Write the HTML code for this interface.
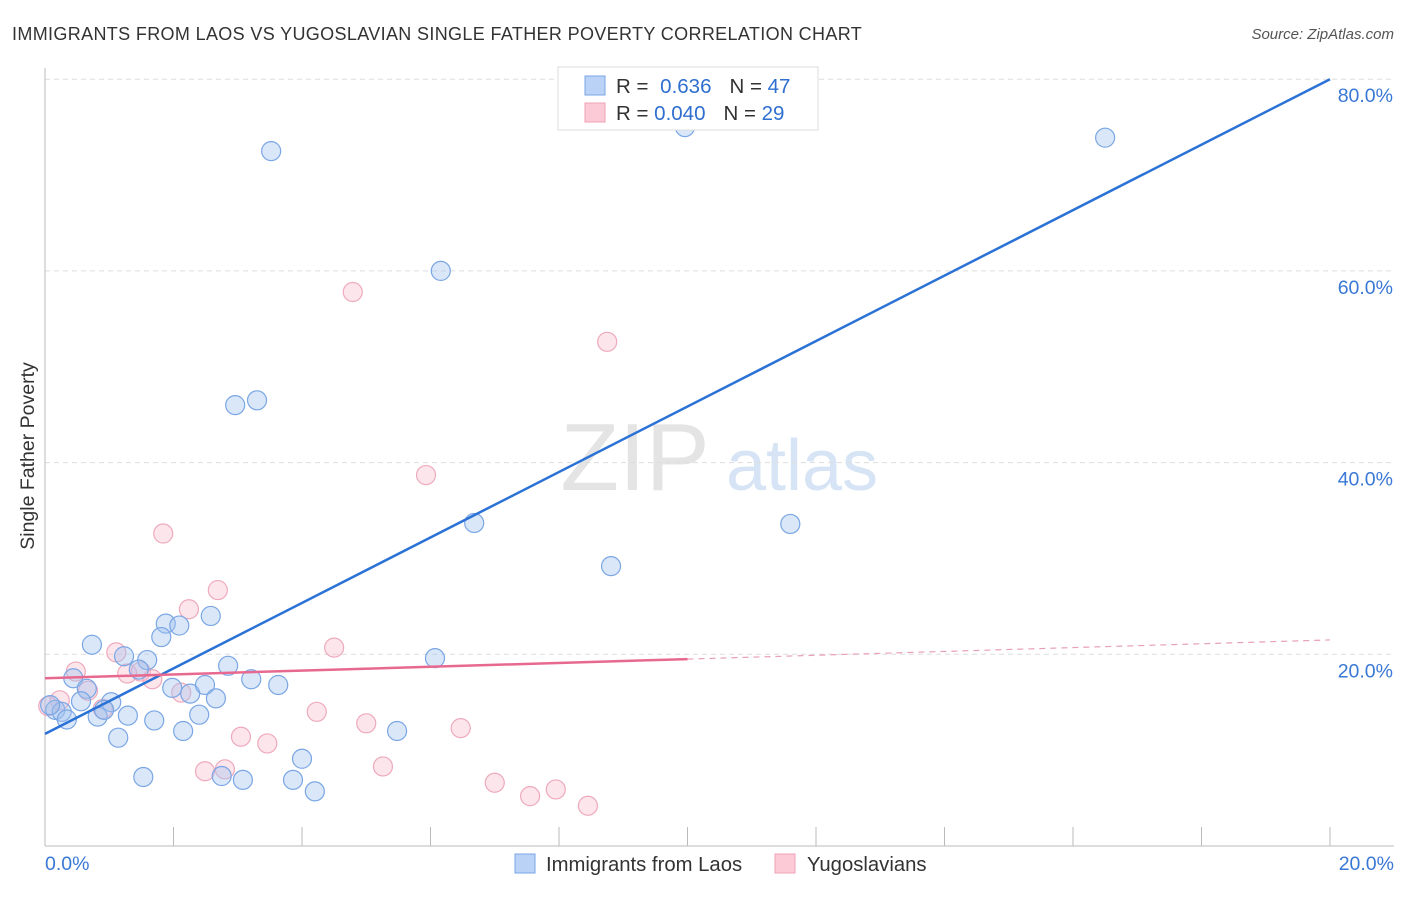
<!DOCTYPE html>
<html><head><meta charset="utf-8"><style>
body{margin:0;background:#fff;font-family:"Liberation Sans",sans-serif;}
svg text{font-family:"Liberation Sans",sans-serif;}
</style></head><body>
<svg id="c" width="1406" height="892" viewBox="0 0 1406 892">
<text x="12" y="40" font-size="18" letter-spacing="0.35" fill="#333">IMMIGRANTS FROM LAOS VS YUGOSLAVIAN SINGLE FATHER POVERTY CORRELATION CHART</text>
<text x="1394" y="39" font-size="15" fill="#555" font-style="italic" text-anchor="end">Source: ZipAtlas.com</text>
<text x="34" y="456" font-size="19.5" fill="#333" text-anchor="middle" transform="rotate(-90 34 456)">Single Father Poverty</text>
<g><text x="635" y="490" font-size="96" fill="#e4e4e4" font-family="Liberation Serif" text-anchor="middle">ZIP</text><text x="802" y="490" font-size="72" fill="#d6e4f5" text-anchor="middle">atlas</text></g>
<g id="grid"></g><g id="axes"></g><g id="pts"></g><g id="lines"></g>
<g>
<rect x="558" y="67" width="260" height="63" fill="#fff" stroke="#ddd"/>
<rect x="585" y="76" width="20" height="19" fill="#b9d2f5" stroke="#7aa5e6"/>
<rect x="585" y="103" width="20" height="19" fill="#fcc9d6" stroke="#eea2b6"/>
<text x="616" y="93" font-size="20.5" fill="#333">R = <tspan fill="#2f6fd0" dx="6">0.636</tspan><tspan dx="18" fill="#333">N = </tspan><tspan fill="#2f6fd0">47</tspan></text>
<text x="616" y="120" font-size="20.5" fill="#333">R = <tspan fill="#2f6fd0">0.040</tspan><tspan dx="18" fill="#333">N = </tspan><tspan fill="#2f6fd0">29</tspan></text>
</g>
<g>
<rect x="515" y="854" width="20" height="19" fill="#b9d2f5" stroke="#7aa5e6"/>
<text x="546" y="871" font-size="20.3" fill="#333">Immigrants from Laos</text>
<rect x="775" y="854" width="20" height="19" fill="#fcc9d6" stroke="#eea2b6"/>
<text x="807" y="871" font-size="20.3" fill="#333">Yugoslavians</text>
</g>
</svg>
<script>
const yTicks=[20,40,60,80];
const yTickLabels=["20.0%","40.0%","60.0%","80.0%"];
const xTicks=[0,2,4,6,8,10,12,14,16,18,20];
const laosX=[3.52,9.96,16.50,6.16,2.96,3.30,6.68,11.60,8.81,0.73,1.23,1.59,1.88,2.09,1.81,2.58,6.07,2.85,0.44,0.65,0.56,1.03,0.16,0.26,0.34,0.82,0.92,1.29,1.70,2.26,2.49,2.66,1.98,3.21,3.63,2.40,2.15,1.14,5.48,4.00,1.53,2.75,3.08,3.86,4.20,1.46,0.08];
const laosY=[72.5,75.0,73.9,60.0,46.0,46.5,33.7,33.6,29.2,21.0,19.8,19.4,23.2,23.0,21.8,24.0,19.6,18.8,17.5,16.4,15.1,15.0,14.2,14.0,13.2,13.5,14.2,13.6,13.1,15.9,16.8,15.4,16.5,17.4,16.8,13.7,12.0,11.3,12.0,9.1,7.2,7.3,6.9,6.9,5.7,18.4,14.7];
const yugoX=[4.79,8.75,5.93,1.84,2.69,2.24,4.50,1.11,0.48,1.28,1.49,1.67,0.67,2.12,0.90,0.23,0.05,4.23,5.00,6.47,3.05,3.46,5.26,2.49,2.80,7.00,7.55,7.95,8.45];
const yugoY=[57.8,52.6,38.7,32.6,26.7,24.7,20.7,20.2,18.2,18.0,18.2,17.4,16.2,16.0,14.3,15.2,14.6,14.0,12.8,12.3,11.4,10.7,8.3,7.8,8.0,6.6,5.2,5.9,4.2];
const laosTrend=[11.7,80.0];
const yugoTrend=[17.5,21.5];
const yugoSolidEnd=10;
const X=v=>45+v/20*1285, Y=v=>846-v/20*191.7;
const NS="http://www.w3.org/2000/svg";
function mk(t,a,p){const e=document.createElementNS(NS,t);for(const k in a)e.setAttribute(k,a[k]);p.appendChild(e);return e;}
const g=document.getElementById('grid'),ax=document.getElementById('axes'),pts=document.getElementById('pts'),ln=document.getElementById('lines');
yTicks.forEach((t,i)=>{
 const l=mk('line',{x1:45,x2:1394,y1:Y(t),y2:Y(t),stroke:'#ddd','stroke-dasharray':'5,4'},g);
 
 
 const tx=mk('text',{x:1393,y:Y(t)+23,'font-size':19.5,fill:'#3a78d6','text-anchor':'end'},ax);tx.textContent=yTickLabels[i];
 
 
});
mk('line',{x1:45,x2:45,y1:68,y2:846,stroke:'#bbb'},ax);
mk('line',{x1:45,x2:1394,y1:846,y2:846,stroke:'#bbb'},ax);
xTicks.forEach(t=>{if(t>0){const l=mk('line',{x1:X(t),x2:X(t),y1:827,y2:846,stroke:'#bbb'},ax);
 
 }});
let t0=mk('text',{x:45,y:870,'font-size':19.5,fill:'#3a78d6'},ax);t0.textContent="0.0%";


let t1=mk('text',{x:1394,y:870,'font-size':19.5,fill:'#3a78d6','text-anchor':'end'},ax);t1.textContent="20.0%";


yugoX.forEach((x,i)=>{const c=mk('circle',{cx:X(x),cy:Y(yugoY[i]),r:9.5,fill:'rgba(248,180,200,0.35)',stroke:'#eeaabd','stroke-width':1.2},pts);
 
 });
laosX.forEach((x,i)=>{const c=mk('circle',{cx:X(x),cy:Y(laosY[i]),r:9.5,fill:'rgba(160,195,240,0.4)',stroke:'#7aa6e4','stroke-width':1.2},pts);
 
 });
const bl=mk('line',{x1:X(0),y1:Y(laosTrend[0]),x2:X(20),y2:Y(laosTrend[1]),stroke:'#2b72d6','stroke-width':2.5},ln);


const ym=yugoTrend[0]+(yugoTrend[1]-yugoTrend[0])*yugoSolidEnd/20;
const pl=mk('line',{x1:X(0),y1:Y(yugoTrend[0]),x2:X(yugoSolidEnd),y2:Y(ym),stroke:'#e8698f','stroke-width':2.5},ln);


const pd=mk('line',{x1:X(yugoSolidEnd),y1:Y(ym),x2:X(20),y2:Y(yugoTrend[1]),stroke:'#e8a0b5','stroke-width':1.2,'stroke-dasharray':'6,5'},ln);


</script>
</body></html>
